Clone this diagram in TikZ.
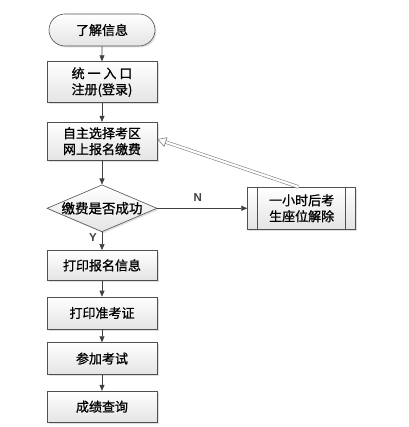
\documentclass[tikz,border=0pt]{standalone}
\usepackage{fontspec}
\setmainfont{Noto Sans CJK SC}[FakeBold=1]
\newfontfamily\latinfont{Liberation Sans}
\usetikzlibrary{arrows.meta,positioning,shapes.geometric,shapes.misc,shadows,calc}
\definecolor{flowLine}{RGB}{64, 64, 64}
\definecolor{flowBorder}{RGB}{80, 80, 80}
\definecolor{flowFill}{RGB}{228, 228, 228}

\begin{document}
\begin{tikzpicture}[
  x=1pt, y=1pt,
  flowbox/.style={
    draw=flowBorder,
    line width=0.6pt,
    top color=white,
    bottom color=flowFill,
    drop shadow={opacity=0.25,shadow xshift=1.5pt,shadow yshift=-1.5pt},
    minimum width=110pt,
    minimum height=32pt,
    inner sep=2pt,
    align=center,
    font=\fontsize{13}{16}\selectfont
  },
  startbox/.style={flowbox,rounded rectangle},
  decision/.style={flowbox,diamond,minimum width=110pt,minimum height=47pt,inner sep=0pt},
  arrow/.style={-{Triangle[length=6pt,width=5pt]},flowLine,line width=0.6pt},
  backline/.style={draw=gray,line width=0.6pt,double=white,double distance=2.2pt,shorten >=8pt},
  backtip/.style={draw=gray,line width=0.6pt,-{Triangle[open,fill=white,length=9pt,width=10pt]}},
  answer/.style={font=\latinfont\bfseries\fontsize{11.5}{13}\selectfont,inner sep=1pt}
]
  \useasboundingbox (0,0) rectangle (408,-427);
  \node[startbox] (info) at (102,-30) {了解信息};
  \node[flowbox,minimum height=41pt,below=15pt of info] (register)
    {统\ 一\ 入\ 口\\注册(登录)};
  \node[flowbox,minimum height=38pt,below=19pt of register] (select)
    {自主选择考区\\网上报名缴费};
  \node[decision,below=24pt of select] (paid) {};
  \node[font=\fontsize{13.5}{16}\selectfont,inner sep=0pt] (paidtext) at (paid) {缴费是否成功};
  \node[flowbox,minimum height=30pt,below=18pt of paid] (printform) {打印报名信息};
  \node[flowbox,below=16pt of printform] (ticket) {打印准考证};
  \node[flowbox,below=13pt of ticket] (exam) {参加考试};
  \node[flowbox,minimum height=31pt,below=16pt of exam] (score) {成绩查询};
  \node[flowbox,minimum width=108pt,minimum height=42pt,right=90pt of paid] (release)
    {一小时后考\\生座位解除};
  \draw[flowBorder,line width=0.6pt] ([xshift=10pt]release.north west) -- ([xshift=10pt]release.south west);
  \draw[flowBorder,line width=0.6pt] ([xshift=-11pt]release.north east) -- ([xshift=-11pt]release.south east);
  \draw[arrow] (info) -- (register);
  \draw[arrow] (register) -- (select);
  \draw[arrow] (select) -- (paid);
  \draw[arrow] (paid) -- node[answer,left=4pt,pos=0.3] {Y} (printform);
  \draw[arrow] (printform) -- (ticket);
  \draw[arrow] (ticket) -- (exam);
  \draw[arrow] (exam) -- (score);
  \draw[arrow] (paid) -- node[answer,above=5pt,pos=0.45] {N} (release);
  % return path, drawn as a hollow double line
  \coordinate (backend) at ([yshift=2pt]select.east);
  \draw[backline] ([xshift=-3pt]release.north) -- (backend);
  \draw[backtip] ($(backend)!9pt!([xshift=-3pt]release.north)$) -- (backend);
\end{tikzpicture}
\end{document}
